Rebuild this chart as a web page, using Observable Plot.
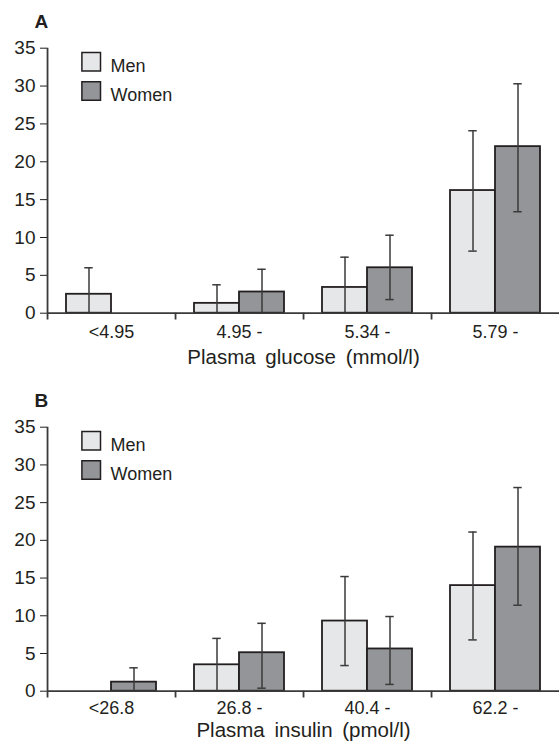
<!DOCTYPE html>
<html><head><meta charset="utf-8">
<script src="https://cdn.jsdelivr.net/npm/d3@7"></script>
<script src="https://cdn.jsdelivr.net/npm/@observablehq/plot@0.6"></script>
<style>
body{margin:0;background:#fff;}
svg{display:block;}
g[aria-label="text"] text{word-spacing:4px;}
g[aria-label="y-axis tick label"] text, g[aria-label="y-axis"] text{font-size:19px;}
</style></head><body><div id="chart"></div>
<script>
const series = ["Men", "Women"];
const seriesColors = ["#e6e7e8", "#939598"];
const yTicks = [0, 5, 10, 15, 20, 25, 30, 35];

const glucoseCategories = ["<4.95", "4.95 -", "5.34 -", "5.79 -"];
const glucoseMen = [2.5, 1.3, 3.4, 16.2];
const glucoseMenLow = [0, 0, 0, 8.2];
const glucoseMenHigh = [6.0, 3.75, 7.4, 24.1];
const glucoseWomen = [0, 2.8, 6.0, 22.0];
const glucoseWomenLow = [0, 0, 1.8, 13.4];
const glucoseWomenHigh = [0, 5.8, 10.3, 30.3];

const insulinCategories = ["<26.8", "26.8 -", "40.4 -", "62.2 -"];
const insulinMen = [0, 3.5, 9.3, 14.0];
const insulinMenLow = [0, 0, 3.4, 6.8];
const insulinMenHigh = [0, 7.0, 15.2, 21.1];
const insulinWomen = [1.2, 5.1, 5.6, 19.1];
const insulinWomenLow = [0, 0.4, 0.9, 11.4];
const insulinWomenHigh = [3.1, 9.0, 9.9, 27.0];

const ink = "#231f20";
const lineInk = "#3a3a3a";

function panel(o) {
  const cats = o.cats;
  const rows = cats.flatMap((c, i) => [
    {cat: c, sex: series[0], v: o.men[i], lo: o.menLo[i], hi: o.menHi[i]},
    {cat: c, sex: series[1], v: o.women[i], lo: o.womenLo[i], hi: o.womenHi[i]}
  ]);
  const bars = rows.filter(d => d.v > 0);
  const width = 560, marginLeft = 46, marginRight = 0, po = 0.41;
  const facetW = (width - marginLeft - marginRight) / cats.length;
  const step = facetW / (2 + 2 * po);
  const edgeDx = -(step * po + step / 2);
  const capInset = (step - 9) / 2;
  const edges = cats.map((c, i) => ({cat: c, top: i === 0 ? 35 : 0}));
  const first = [{cat: cats[0]}];
  return Plot.plot({
    width, height: o.height, marginLeft, marginRight,
    marginTop: o.marginTop, marginBottom: o.marginBottom,
    style: {fontFamily: "'Liberation Sans', Arial, sans-serif", fontSize: "18px", color: ink, background: "#fff", overflow: "visible"},
    fx: {domain: cats, padding: 0, axis: "bottom", tickSize: 0, tickPadding: o.tickPadding, label: null},
    x: {domain: series, paddingInner: 0, paddingOuter: po, axis: null},
    y: {domain: [0, 35], ticks: yTicks, tickSize: 7, tickPadding: 5, label: null},
    color: {domain: series, range: seriesColors},
    marks: [
      Plot.barY(bars, {fx: "cat", x: "sex", y: "v", fill: "sex", stroke: ink, strokeWidth: 1.8}),
      Plot.ruleX(bars, {fx: "cat", x: "sex", y1: "lo", y2: "hi", stroke: lineInk, strokeWidth: 1.5}),
      Plot.tickY(bars, {fx: "cat", x: "sex", y: "hi", stroke: lineInk, strokeWidth: 1.5, insetLeft: capInset, insetRight: capInset}),
      Plot.tickY(bars.filter(d => d.lo > 0), {fx: "cat", x: "sex", y: "lo", stroke: lineInk, strokeWidth: 1.5, insetLeft: capInset, insetRight: capInset}),
      Plot.ruleY([0], {stroke: lineInk, strokeWidth: 1.8}),
      Plot.ruleX(edges, {fx: "cat", x: () => series[0], dx: edgeDx, y1: -0.9, y2: "top", stroke: lineInk, strokeWidth: 1.8}),
      ...series.map((s, i) => Plot.dot([{cat: cats[0], sex: s}], {fx: "cat", frameAnchor: "top-left", dx: 43.7, dy: 13.5 + i * 29.3, symbol: "square", r: 10.5, fill: "sex", stroke: ink, strokeWidth: 1.5})),
      ...series.map((s, i) => Plot.text(first, {fx: "cat", frameAnchor: "top-left", text: () => s, dx: 63, dy: 11 + i * 29.3, textAnchor: "start", fontSize: 18, fill: ink})),
      Plot.text(first, {fx: "cat", frameAnchor: "top-left", text: () => o.letter, dx: -13, dy: -20, lineAnchor: "bottom", textAnchor: "start", fontWeight: "bold", fontSize: 19, fill: ink}),
      Plot.text([{cat: cats[1]}], {fx: "cat", frameAnchor: "bottom-right", text: () => o.label, textAnchor: "middle", lineAnchor: "bottom", dy: o.labelDy, fontSize: 20.5, fill: ink})
    ]
  });
}

const chart = document.getElementById("chart");
chart.appendChild(panel({
  letter: "A", label: "Plasma glucose (mmol/l)", cats: glucoseCategories,
  men: glucoseMen, menLo: glucoseMenLow, menHi: glucoseMenHigh,
  women: glucoseWomen, womenLo: glucoseWomenLow, womenHi: glucoseWomenHigh,
  height: 378, marginTop: 47.7, marginBottom: 65.3, labelDy: 51, tickPadding: 12
}));
chart.appendChild(panel({
  letter: "B", label: "Plasma insulin (pmol/l)", cats: insulinCategories,
  men: insulinMen, menLo: insulinMenLow, menHi: insulinMenHigh,
  women: insulinWomen, womenLo: insulinWomenLow, womenHi: insulinWomenHigh,
  height: 369, marginTop: 48.7, marginBottom: 56.3, labelDy: 46, tickPadding: 10
}));
</script></body></html>
